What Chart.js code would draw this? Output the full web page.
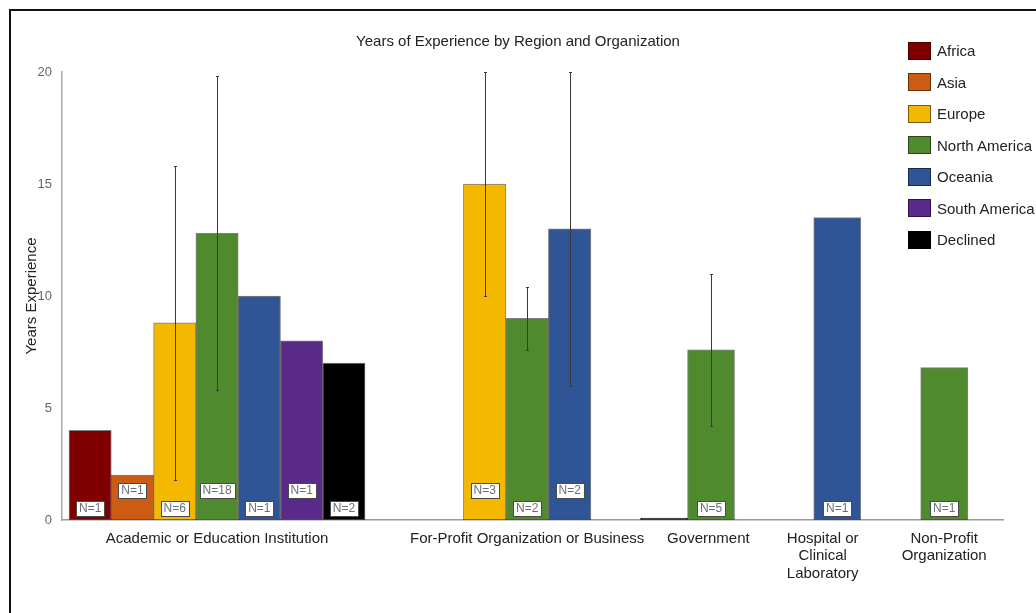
<!DOCTYPE html>
<html>
<head>
<meta charset="utf-8">
<title>Years of Experience by Region and Organization</title>
<script src="https://cdn.jsdelivr.net/npm/chart.js@4.4.1/dist/chart.umd.min.js"></script>
<style>
  html, body { margin: 0; padding: 0; background: #fff; }
  body { width: 1036px; height: 613px; position: relative; overflow: hidden; font-family: "Liberation Sans", Arial, sans-serif; }
  #frame { position: absolute; left: 9px; top: 9px; width: 1100px; height: 700px; border: 2px solid #111; box-sizing: border-box; }
  #chart { position: absolute; left: 0; top: 0; }
  #legend { position: absolute; left: 908px; top: 35px; }
  .item { display: flex; align-items: center; height: 31.5px; font-size: 15px; color: #222; white-space: nowrap; }
  .swatch { width: 23px; height: 18px; box-sizing: border-box; border: 1px solid rgba(0,0,0,0.5); margin-right: 6px; }
</style>
</head>
<body>
<div id="frame"></div>
<canvas id="chart" width="1036" height="613"></canvas>
<div id="legend"></div>

<script>
// ---------- data ----------
const categories = [
  'Academic or Education Institution',
  'For-Profit Organization or Business',
  'Government',
  ['Hospital or', 'Clinical', 'Laboratory'],
  ['Non-Profit', 'Organization']
];
const regions = ['Africa', 'Asia', 'Europe', 'North America', 'Oceania', 'South America', 'Declined'];

// mean years of experience per organization type
const africa       = [4,    null, null, null, null];
const asia         = [2,    null, null, null, null];
const europe       = [8.8,  15,   0,    null, null];
const northAmerica = [12.8, 9,    7.6,  null, 6.8];
const oceania      = [10,   13,   null, 13.5, null];
const southAmerica = [8,    null, null, null, null];
const declined     = [7,    null, null, null, null];

// +/- spread shown as error bars
const europeErr       = [7,    5,   null, null, null];
const northAmericaErr = [7,    1.4, 3.4,  null, null];
const oceaniaErr      = [null, 7,   null, null, null];

// respondents behind each bar
const africaN       = [1,  null, null, null, null];
const asiaN         = [1,  null, null, null, null];
const europeN       = [6,  3,    null, null, null];
const northAmericaN = [18, 2,    5,    null, 1];
const oceaniaN      = [1,  2,    null, 1,    null];
const southAmericaN = [1,  null, null, null, null];
const declinedN     = [2,  null, null, null, null];

const yTicks = [0, 5, 10, 15, 20];

// ---------- layout / style ----------
const FONT = '"Liberation Sans", Arial, sans-serif';
const colors = ['#800000', '#cc5c14', '#f4b800', '#4f8a2f', '#2f5597', '#5a2a8a', '#000000'];

// x axis is split into narrow slots so the groups can sit at uneven spacing
const SLOT_COUNT = 88;
const categorySlot = [14, 43, 58, 72, 82];
const barWidth = [42.3, 42.5, 47, 47, 47];
// N boxes lifted up a row so neighbours don't collide
const raisedN = [['Asia', 'North America', 'South America'], ['Europe', 'Oceania'], [], [], []];

const values = [africa, asia, europe, northAmerica, oceania, southAmerica, declined];
const errors = [null, null, europeErr, northAmericaErr, oceaniaErr, null, null];
const counts = [africaN, asiaN, europeN, northAmericaN, oceaniaN, southAmericaN, declinedN];

// nudge a label sideways with spaces (centre text lands over the bar)
function nudge(label, spaces) {
  const pad = ' '.repeat(Math.abs(spaces));
  const f = s => spaces > 0 ? pad + s : s + pad;
  return Array.isArray(label) ? label.map(f) : f(label);
}
const labelNudge = [0, 0, 10, -7, 0];

const slotLabels = new Array(SLOT_COUNT).fill('');
categories.forEach((c, i) => {
  slotLabels[categorySlot[i]] = labelNudge[i] ? nudge(c, labelNudge[i]) : c;
});

// one dataset per region and category, so every group keeps its own bar width
const datasets = [];
categories.forEach((cat, c) => {
  regions.forEach((region, r) => {
    const v = values[r][c];
    if (v === null) return;
    const data = new Array(SLOT_COUNT).fill(null);
    data[categorySlot[c]] = v;
    datasets.push({
      label: region,
      data: data,
      backgroundColor: v === 0 ? '#222' : colors[r],
      borderColor: v === 0 ? '#222' : 'rgba(0,0,0,0.5)',
      borderWidth: 1,
      borderSkipped: false,
      barThickness: barWidth[c],
      minBarLength: 2,
      err: errors[r] ? errors[r][c] : null,
      n: counts[r][c],
      raised: raisedN[c].includes(region)
    });
  });
});

// ---------- plugins ----------
const errorBars = {
  id: 'errorBars',
  afterDatasetsDraw(chart) {
    const { ctx } = chart;
    const y = chart.scales.y;
    ctx.save();
    ctx.strokeStyle = '#3a3a3a';
    ctx.lineWidth = 1;
    chart.data.datasets.forEach((ds, i) => {
      if (ds.err == null) return;
      chart.getDatasetMeta(i).data.forEach((bar, j) => {
        const v = ds.data[j];
        if (v === null) return;
        const x = Math.round(bar.x) + 0.5;
        const top = Math.round(y.getPixelForValue(v + ds.err)) + 0.5;
        const bot = Math.round(y.getPixelForValue(v - ds.err)) + 0.5;
        ctx.beginPath();
        ctx.moveTo(x, top); ctx.lineTo(x, bot);
        ctx.moveTo(x - 1.5, top); ctx.lineTo(x + 1.5, top);
        ctx.moveTo(x - 1.5, bot); ctx.lineTo(x + 1.5, bot);
        ctx.stroke();
      });
    });
    ctx.restore();
  }
};

const countLabels = {
  id: 'countLabels',
  afterDatasetsDraw(chart) {
    const { ctx } = chart;
    const base = chart.scales.y.getPixelForValue(0);
    ctx.save();
    ctx.font = '12px ' + FONT;
    ctx.textAlign = 'center';
    ctx.textBaseline = 'middle';
    chart.data.datasets.forEach((ds, i) => {
      if (ds.n == null) return;
      chart.getDatasetMeta(i).data.forEach((bar, j) => {
        if (ds.data[j] === null) return;
        const text = 'N=' + ds.n;
        const w = Math.round(ctx.measureText(text).width + 6);
        const h = 15;
        const cy = base - (ds.raised ? 30 : 12);
        const x0 = Math.round(bar.x - w / 2) + 0.5;
        const y0 = Math.round(cy - h / 2) + 0.5;
        ctx.fillStyle = '#fff';
        ctx.fillRect(x0, y0, w, h);
        ctx.strokeStyle = '#4a4a4a';
        ctx.lineWidth = 1;
        ctx.strokeRect(x0, y0, w, h);
        ctx.fillStyle = '#6b6f73';
        ctx.fillText(text, bar.x, cy + 0.5);
      });
    });
    ctx.restore();
  }
};

// ---------- chart ----------
Chart.defaults.font.family = FONT;

new Chart(document.getElementById('chart'), {
  type: 'bar',
  data: { labels: slotLabels, datasets: datasets },
  options: {
    responsive: false,
    animation: false,
    layout: { padding: 0 },
    datasets: { bar: { skipNull: true, grouped: true } },
    plugins: {
      legend: { display: false },
      tooltip: { enabled: false },
      title: {
        display: true,
        text: 'Years of Experience by Region and Organization',
        color: '#222',
        font: { size: 15, weight: 'normal', lineHeight: 1.2 },
        padding: { top: 33, bottom: 21 }
      }
    },
    scales: {
      x: {
        grid: { display: false, drawTicks: false },
        border: { display: true, color: '#9a9a9a', width: 1.5 },
        ticks: {
          autoSkip: false, maxRotation: 0, minRotation: 0, padding: 10,
          color: '#222', font: { size: 15, lineHeight: 1.17 }
        },
        afterFit: (scale) => { scale.height = 93; }
      },
      y: {
        min: 0, max: 20,
        grid: { display: false, drawTicks: false },
        border: { display: true, color: '#a8a8a8', width: 1.5 },
        afterBuildTicks: (scale) => { scale.ticks = yTicks.map(v => ({ value: v })); },
        ticks: { padding: 10, color: '#666', font: { size: 13 } },
        title: {
          display: true, text: 'Years Experience', color: '#222',
          font: { size: 15, lineHeight: 1.2 }, padding: { top: 23, bottom: 0 }
        },
        afterFit: (scale) => { scale.width = 62; }
      },
      // empty right-hand strip: keeps the plot clear of the frame edge
      yRight: {
        position: 'right',
        display: true,
        grid: { display: false },
        border: { display: false },
        ticks: { display: false },
        afterFit: (scale) => { scale.width = 33; }
      }
    }
  },
  plugins: [errorBars, countLabels]
});

// legend on the right, drawn over the plot like the rest of the page
const legend = document.getElementById('legend');
regions.forEach((name, i) => {
  const row = document.createElement('div');
  row.className = 'item';
  const sw = document.createElement('span');
  sw.className = 'swatch';
  sw.style.background = colors[i];
  row.appendChild(sw);
  row.appendChild(document.createTextNode(name));
  legend.appendChild(row);
});
</script>
</body>
</html>
